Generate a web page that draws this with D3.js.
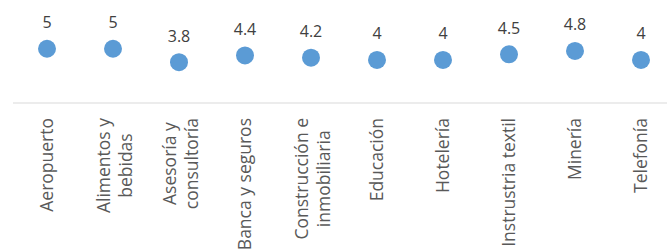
<!DOCTYPE html>
<html>
<head>
<meta charset="utf-8">
<script src="https://cdn.jsdelivr.net/npm/d3@7"></script>
<style>
  html, body { margin: 0; padding: 0; background: #ffffff; }
  svg { display: block; font-family: "Open Sans", sans-serif; }
</style>
</head>
<body>
<svg id="chart" width="667" height="251"></svg>
<script>
const categories = ["Aeropuerto", "Alimentos y\nbebidas", "Asesoría y\nconsultoría", "Banca y seguros",
  "Construcción e\ninmobiliaria", "Educación", "Hotelería", "Instrustria textil", "Minería", "Telefonía"];
const values = [5, 5, 3.8, 4.4, 4.2, 4, 4, 4.5, 4.8, 4];
const valueLabels = ["5", "5", "3.8", "4.4", "4.2", "4", "4", "4.5", "4.8", "4"];

const svg = d3.select("#chart");
const x = d3.scaleBand().domain(categories).range([14, 674]);
const y = d3.scaleLinear().domain([0, 6]).range([104.5, 37.6]);
const axisY = 103;

// axis line
svg.append("line")
  .attr("x1", 13).attr("x2", 667)
  .attr("y1", axisY).attr("y2", axisY)
  .attr("stroke", "#d9d9d9").attr("stroke-width", 1);

// points
svg.append("g").selectAll("circle")
  .data(values)
  .join("circle")
  .attr("cx", (d, i) => x(categories[i]) + x.bandwidth() / 2)
  .attr("cy", d => y(d))
  .attr("r", 9)
  .attr("fill", "#5b9bd5");

// data labels
svg.append("g").selectAll("text")
  .data(values)
  .join("text")
  .attr("x", (d, i) => x(categories[i]) + x.bandwidth() / 2)
  .attr("y", d => y(d) - 20.5)
  .attr("text-anchor", "middle")
  .attr("font-size", 16)
  .attr("fill", "#404040")
  .text((d, i) => valueLabels[i]);

// category labels
const labelTop = 118;
const lineH = 21.5;
const capOff = 6;
const cg = svg.append("g");
categories.forEach((c, i) => {
  const lines = c.split("\n");
  const cx = x(c) + x.bandwidth() / 2;
  const g = cg.append("g").attr("transform", `translate(${cx},${labelTop}) rotate(-90)`);
  const texts = lines.map((ln, j) => g.append("text")
    .attr("font-size", 17.5)
    .attr("fill", "#595959")
    .text(ln));
  const widths = texts.map(t => t.node().getComputedTextLength());
  const maxW = d3.max(widths);
  const n = lines.length;
  texts.forEach((t, j) => {
    const base = capOff + (j - (n - 1) / 2) * lineH + (n > 1 ? 2 : 0);
    t.attr("text-anchor", "middle")
      .attr("x", -maxW / 2)
      .attr("y", base);
  });
});
</script>
</body>
</html>
